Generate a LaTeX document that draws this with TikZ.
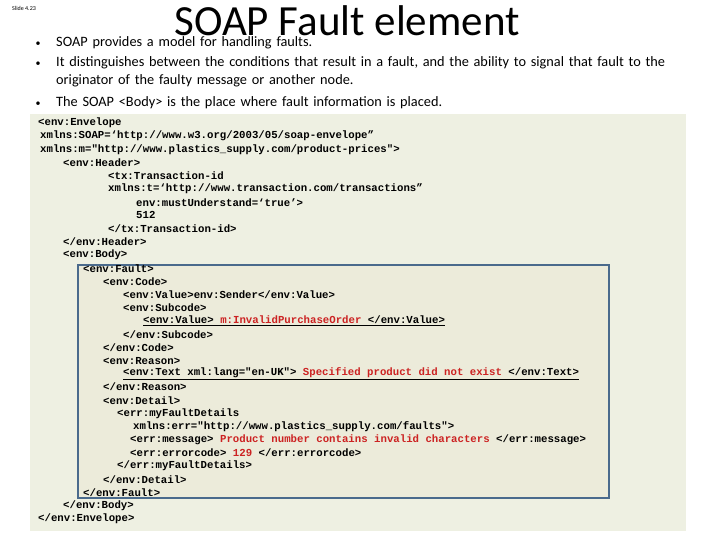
\documentclass[tikz,border=0pt]{standalone}
\usepackage{fontspec}
\setmainfont{Carlito}
\setmonofont{Liberation Mono}
\definecolor{bgc}{HTML}{EEF0E2}
\definecolor{inc}{HTML}{ECEBDA}
\definecolor{brd}{HTML}{4A6A8C}
\definecolor{rd}{HTML}{CC2222}
\tikzset{code/.style={anchor=west,inner sep=0pt,font=\ttfamily\bfseries\fontsize{10.7}{12}\selectfont},
bul/.style={anchor=north west,inner sep=0pt,font=\fontsize{14.3}{18}\selectfont,text width=625pt,align=left}}
\newcommand{\R}[1]{\textcolor{rd}{#1}}
\begin{document}
\begin{tikzpicture}[x=1pt,y=-1pt]
\useasboundingbox (0,0) rectangle (720,540);
\fill[white] (0,0) rectangle (720,540);
\node[inner sep=0pt,font=\fontsize{6}{7}\selectfont,anchor=west] (slide) at (12,8) {Slide 4.23};
\node[font=\fontsize{43}{46}\selectfont,inner sep=0pt] (title) at (347,21) {SOAP Fault element};
\foreach \n/\y in {b1/44,b2/64,b3/104}{\node[inner sep=0pt] (\n d) at (38,\y) {\textbullet};}
\node[bul] (b1) at (56,36) {SOAP provides a model for handling faults.};
\node[bul] (b2) at (56,56) {It distinguishes between the conditions that result in a fault, and the ability to signal that fault to the originator of the faulty message or another node.};
\node[bul] (b3) at (56,96) {The SOAP \textless Body\textgreater\ is the place where fault information is placed.};
\fill[bgc] (30,114) rectangle (686,531);
\draw[brd,line width=2pt,fill=inc] (78,265) rectangle (609,498);
\node[code] (l1) at (38,123) {<env:Envelope};
\node[code] (l2) at (40,136.2) {xmlns:SOAP=‘http://www.w3.org/2003/05/soap-envelope”};
\node[code] (l3) at (40,149.4) {xmlns:m="http://www.plastics\_supply.com/product-prices">};
\node[code] (l4) at (63,162.6) {<env:Header>};
\node[code] (l5) at (108,175.8) {<tx:Transaction-id};
\node[code] (l6) at (108,189) {xmlns:t=‘http://www.transaction.com/transactions”};
\node[code] (l7) at (136,202.2) {env:mustUnderstand=‘true’>};
\node[code] (l8) at (136,215.4) {512};
\node[code] (l9) at (108,228.6) {</tx:Transaction-id>};
\node[code] (l10) at (63,241.8) {</env:Header>};
\node[code] (l11) at (63,255) {<env:Body>};
\node[code] (l12) at (83,268.2) {<env:Fault>};
\node[code] (l13) at (103,281.4) {<env:Code>};
\node[code] (l14) at (123,294.6) {<env:Value>env:Sender</env:Value>};
\node[code] (l15) at (123,307.8) {<env:Subcode>};
\node[code] (l16) at (143,321) {\underline{<env:Value> \R{m:InvalidPurchaseOrder} </env:Value>}};
\node[code] (l17) at (123,334.2) {</env:Subcode>};
\node[code] (l18) at (103,347.4) {</env:Code>};
\node[code] (l19) at (103,360.6) {<env:Reason>};
\node[code] (l20) at (123,373.8) {\underline{<env:Text xml:lang="en-UK"> \R{Specified product did not exist} </env:Text>}};
\node[code] (l21) at (103,387) {</env:Reason>};
\node[code] (l22) at (103,400.2) {<env:Detail>};
\node[code] (l23) at (117,413.4) {<err:myFaultDetails};
\node[code] (l24) at (133,426.6) {xmlns:err="http://www.plastics\_supply.com/faults">};
\node[code] (l25) at (130,439.8) {<err:message> \R{Product number contains invalid characters} </err:message>};
\node[code] (l26) at (130,453) {<err:errorcode> \R{129} </err:errorcode>};
\node[code] (l27) at (117,466.2) {</err:myFaultDetails>};
\node[code] (l28) at (103,479.4) {</env:Detail>};
\node[code] (l29) at (83,492.6) {</env:Fault>};
\node[code] (l30) at (63,505.8) {</env:Body>};
\node[code] (l31) at (38,519) {</env:Envelope>};
\end{tikzpicture}
\end{document}
